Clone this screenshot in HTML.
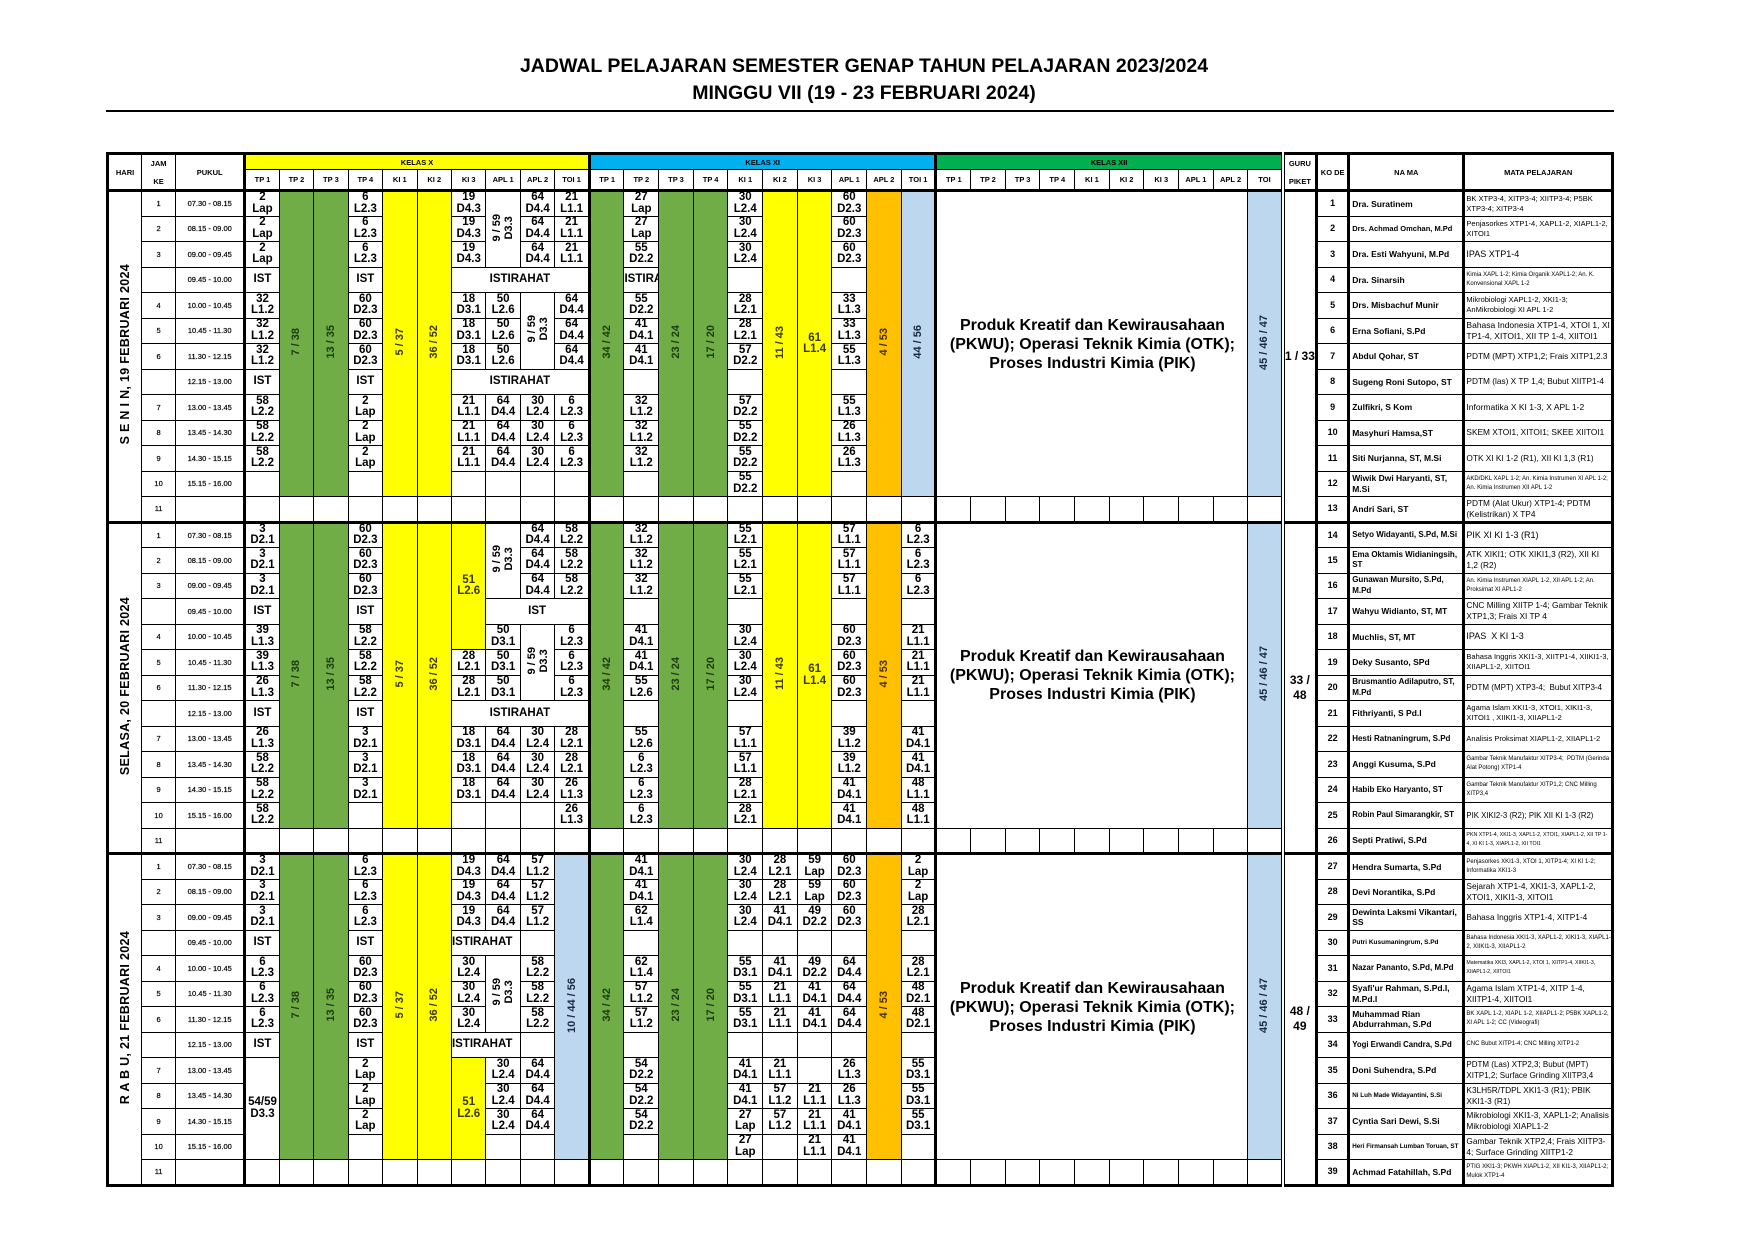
<!DOCTYPE html>
<html><head><meta charset="utf-8">
<style>
body{margin:0;width:1754px;height:1240px;background:#fff;position:relative;font-family:"Liberation Sans",Arial,sans-serif;overflow:hidden}
.ti{position:absolute;left:0;width:1728px;text-align:center;font-weight:bold;font-size:19.5px;line-height:22px}
.hr{position:absolute;left:106px;top:110px;width:1508px;height:2px;background:#000}
table{position:absolute;left:106px;top:152px;width:1508px;border-collapse:collapse;table-layout:fixed;border:3px solid #000}
td{border:1.5px solid #000;padding:0;text-align:center;vertical-align:middle;font-weight:bold;font-size:11.5px;line-height:11.5px;overflow:hidden;color:#000;white-space:nowrap}
tbody{border-top:3px solid #000}
tbody tr{height:25.5px}
thead td{font-size:7.5px;line-height:9px}
.h1{height:16px}.h2{height:21px}
.g{background:#70AD47;color:#1e3a10}
.y{background:#FFFF00;color:#3a3a00}
.o{background:#FFC000;color:#4a3000}
.b{background:#BDD7EE;color:#1a2a40}
.v{writing-mode:vertical-rl;transform:rotate(180deg);display:inline-block;font-size:11px;line-height:12px;white-space:nowrap}
.day .v{font-size:12.5px;letter-spacing:.3px}
.s{font-size:7.5px;font-weight:normal;-webkit-text-stroke:.2px #000}
.big{font-size:16px;line-height:19px;white-space:normal;padding:0 4px}
.gp{font-size:12px;line-height:15px}
.k{font-size:9px}
.n{text-align:left;font-size:8.5px;line-height:10.5px;padding-left:2px;white-space:normal}
.m{text-align:left;font-weight:normal;font-size:9px;line-height:11px;padding-left:1px;white-space:normal}
.m2{font-size:7.5px;line-height:10px}
.m3{font-size:6px;line-height:9px}
.ns{font-size:7.5px}
.l{text-align:left}
</style></head><body>
<div class="ti" style="top:55px">JADWAL PELAJARAN SEMESTER GENAP TAHUN PELAJARAN 2023/2024</div>
<div class="ti" style="top:82px">MINGGU VII (19 - 23 FEBRUARI 2024)</div>
<div class="hr"></div>
<table>
<colgroup>
<col style="width:34px"><col style="width:34px"><col style="width:69px">
<col style="width:34.4px;border-left:3px solid #000"><col style="width:34.4px"><col style="width:34.4px"><col style="width:34.4px"><col style="width:34.4px"><col style="width:34.4px"><col style="width:34.4px"><col style="width:34.4px"><col style="width:34.4px"><col style="width:34.4px">
<col style="width:34.6px;border-left:3px solid #000"><col style="width:34.6px"><col style="width:34.6px"><col style="width:34.6px"><col style="width:34.6px"><col style="width:34.6px"><col style="width:34.6px"><col style="width:34.6px"><col style="width:34.6px"><col style="width:34.6px">
<col style="width:34.6px;border-left:3px solid #000"><col style="width:34.6px"><col style="width:34.6px"><col style="width:34.6px"><col style="width:34.6px"><col style="width:34.6px"><col style="width:34.6px"><col style="width:34.6px"><col style="width:34.6px"><col style="width:34.6px">
<col style="width:34px;border-left:4px double #000"><col style="width:32px;border-left:3px solid #000"><col style="width:115px;border-left:3px solid #000"><col style="width:148px;border-left:3px solid #000">
</colgroup>
<thead>
<tr class="h1"><td rowspan="2">HARI</td><td rowspan="2">JAM<br><br>KE</td><td rowspan="2">PUKUL</td>
<td colspan="10" class="y" style="color:#000">KELAS X</td><td colspan="10" style="background:#00B0F0">KELAS XI</td><td colspan="10" style="background:#00B050">KELAS XII</td>
<td rowspan="2">GURU<br><br>PIKET</td><td rowspan="2">KO DE</td><td rowspan="2">NA MA</td><td rowspan="2">MATA PELAJARAN</td></tr>
<tr class="h2"><td>TP 1</td><td>TP 2</td><td>TP 3</td><td>TP 4</td><td>KI 1</td><td>KI 2</td><td>KI 3</td><td>APL 1</td><td>APL 2</td><td>TOI 1</td>
<td>TP 1</td><td>TP 2</td><td>TP 3</td><td>TP 4</td><td>KI 1</td><td>KI 2</td><td>KI 3</td><td>APL 1</td><td>APL 2</td><td>TOI 1</td>
<td>TP 1</td><td>TP 2</td><td>TP 3</td><td>TP 4</td><td>KI 1</td><td>KI 2</td><td>KI 3</td><td>APL 1</td><td>APL 2</td><td>TOI</td></tr>
</thead>
<!-- SENIN -->
<tbody>
<tr><td rowspan="13" class="day"><div class="v">S E N I N, 19 FEBRUARI 2024</div></td><td class="s">1</td><td class="s">07.30 - 08.15</td>
<td>2<br>Lap</td><td rowspan="12" class="g"><div class="v">7 / 38</div></td><td rowspan="12" class="g"><div class="v">13 / 35</div></td><td>6<br>L2.3</td><td rowspan="12" class="y"><div class="v">5 / 37</div></td><td rowspan="12" class="y"><div class="v">36 / 52</div></td><td>19<br>D4.3</td><td rowspan="3"><div class="v">9 / 59<br>D3.3</div></td><td>64<br>D4.4</td><td>21<br>L1.1</td>
<td rowspan="12" class="g"><div class="v">34 / 42</div></td><td>27<br>Lap</td><td rowspan="12" class="g"><div class="v">23 / 24</div></td><td rowspan="12" class="g"><div class="v">17 / 20</div></td><td>30<br>L2.4</td><td rowspan="12" class="y"><div class="v">11 / 43</div></td><td rowspan="12" class="y">61<br>L1.4</td><td>60<br>D2.3</td><td rowspan="12" class="o"><div class="v">4 / 53</div></td><td rowspan="12" class="b"><div class="v">44 / 56</div></td>
<td colspan="9" rowspan="12" class="big">Produk Kreatif dan Kewirausahaan (PKWU); Operasi Teknik Kimia (OTK); Proses Industri Kimia (PIK)</td><td rowspan="12" class="b"><div class="v">45 / 46 / 47</div></td>
<td rowspan="13" class="gp">1 / 33</td><td class="k">1</td><td class="n">Dra. Suratinem</td><td class="m m2">BK XTP3-4, XITP3-4; XIITP3-4; P5BK XTP3-4; XITP3-4</td></tr>
<tr><td class="s">2</td><td class="s">08.15 - 09.00</td><td>2<br>Lap</td><td>6<br>L2.3</td><td>19<br>D4.3</td><td>64<br>D4.4</td><td>21<br>L1.1</td><td>27<br>Lap</td><td>30<br>L2.4</td><td>60<br>D2.3</td>
<td class="k">2</td><td class="n ns">Drs. Achmad Omchan, M.Pd</td><td class="m m2">Penjasorkes XTP1-4, XAPL1-2, XIAPL1-2, XITOI1</td></tr>
<tr><td class="s">3</td><td class="s">09.00 - 09.45</td><td>2<br>Lap</td><td>6<br>L2.3</td><td>19<br>D4.3</td><td>64<br>D4.4</td><td>21<br>L1.1</td><td>55<br>D2.2</td><td>30<br>L2.4</td><td>60<br>D2.3</td>
<td class="k">3</td><td class="n">Dra. Esti Wahyuni, M.Pd</td><td class="m">IPAS XTP1-4</td></tr>
<tr><td class="s"></td><td class="s">09.45 - 10.00</td><td>IST</td><td>IST</td><td colspan="4">ISTIRAHAT</td><td class="l">ISTIRA</td><td></td><td></td>
<td class="k">4</td><td class="n">Dra. Sinarsih</td><td class="m m3">Kimia XAPL 1-2; Kimia Organik XAPL1-2; An. K. Konvensional XAPL 1-2</td></tr>
<tr><td class="s">4</td><td class="s">10.00 - 10.45</td><td>32<br>L1.2</td><td>60<br>D2.3</td><td>18<br>D3.1</td><td>50<br>L2.6</td><td rowspan="3"><div class="v">9 / 59<br>D3.3</div></td><td>64<br>D4.4</td><td>55<br>D2.2</td><td>28<br>L2.1</td><td>33<br>L1.3</td>
<td class="k">5</td><td class="n">Drs. Misbachuf Munir</td><td class="m m2">Mikrobiologi XAPL1-2, XKI1-3; AnMikrobiologi XI APL 1-2</td></tr>
<tr><td class="s">5</td><td class="s">10.45 - 11.30</td><td>32<br>L1.2</td><td>60<br>D2.3</td><td>18<br>D3.1</td><td>50<br>L2.6</td><td>64<br>D4.4</td><td>41<br>D4.1</td><td>28<br>L2.1</td><td>33<br>L1.3</td>
<td class="k">6</td><td class="n">Erna Sofiani, S.Pd</td><td class="m" style="font-size:8.5px">Bahasa Indonesia XTP1-4, XTOI 1, XI TP1-4, XITOI1, XII TP 1-4, XIITOI1</td></tr>
<tr><td class="s">6</td><td class="s">11.30 - 12.15</td><td>32<br>L1.2</td><td>60<br>D2.3</td><td>18<br>D3.1</td><td>50<br>L2.6</td><td>64<br>D4.4</td><td>41<br>D4.1</td><td>57<br>D2.2</td><td>55<br>L1.3</td>
<td class="k">7</td><td class="n">Abdul Qohar, ST</td><td class="m" style="font-size:8.3px">PDTM (MPT) XTP1,2; Frais XITP1,2.3</td></tr>
<tr><td class="s"></td><td class="s">12.15 - 13.00</td><td>IST</td><td>IST</td><td colspan="4">ISTIRAHAT</td><td></td><td></td><td></td>
<td class="k">8</td><td class="n">Sugeng Roni Sutopo, ST</td><td class="m" style="font-size:8.3px">PDTM (las) X TP 1,4; Bubut XIITP1-4</td></tr>
<tr><td class="s">7</td><td class="s">13.00 - 13.45</td><td>58<br>L2.2</td><td>2<br>Lap</td><td>21<br>L1.1</td><td>64<br>D4.4</td><td>30<br>L2.4</td><td>6<br>L2.3</td><td>32<br>L1.2</td><td>57<br>D2.2</td><td>55<br>L1.3</td>
<td class="k">9</td><td class="n">Zulfikri, S Kom</td><td class="m" style="font-size:8.5px">Informatika X KI 1-3, X APL 1-2</td></tr>
<tr><td class="s">8</td><td class="s">13.45 - 14.30</td><td>58<br>L2.2</td><td>2<br>Lap</td><td>21<br>L1.1</td><td>64<br>D4.4</td><td>30<br>L2.4</td><td>6<br>L2.3</td><td>32<br>L1.2</td><td>55<br>D2.2</td><td>26<br>L1.3</td>
<td class="k">10</td><td class="n">Masyhuri Hamsa,ST</td><td class="m" style="font-size:8.3px">SKEM XTOI1, XITOI1; SKEE XIITOI1</td></tr>
<tr><td class="s">9</td><td class="s">14.30 - 15.15</td><td>58<br>L2.2</td><td>2<br>Lap</td><td>21<br>L1.1</td><td>64<br>D4.4</td><td>30<br>L2.4</td><td>6<br>L2.3</td><td>32<br>L1.2</td><td>55<br>D2.2</td><td>26<br>L1.3</td>
<td class="k">11</td><td class="n">Siti Nurjanna, ST, M.Si</td><td class="m" style="font-size:8.3px">OTK XI KI 1-2 (R1), XII KI 1,3 (R1)</td></tr>
<tr><td class="s">10</td><td class="s">15.15 - 16.00</td><td></td><td></td><td></td><td></td><td></td><td></td><td></td><td>55<br>D2.2</td><td></td>
<td class="k">12</td><td class="n">Wiwik Dwi Haryanti, ST, M.Si</td><td class="m m3">AKD/DKL XAPL 1-2; An. Kimia Instrumen XI APL 1-2; An. Kimia Instrumen XII APL 1-2</td></tr>
<tr><td class="s">11</td><td class="s"></td><td></td><td></td><td></td><td></td><td></td><td></td><td></td><td></td><td></td><td></td><td></td><td></td><td></td><td></td><td></td><td></td><td></td><td></td><td></td><td></td><td></td><td></td><td></td><td></td><td></td><td></td><td></td><td></td><td></td><td></td>
<td class="k">13</td><td class="n">Andri Sari, ST</td><td class="m" style="font-size:8.3px">PDTM (Alat Ukur) XTP1-4; PDTM (Kelistrikan) X TP4</td></tr>
</tbody>
<!-- SELASA -->
<tbody>
<tr><td rowspan="13" class="day"><div class="v">SELASA, 20 FEBRUARI 2024</div></td><td class="s">1</td><td class="s">07.30 - 08.15</td>
<td>3<br>D2.1</td><td rowspan="12" class="g"><div class="v">7 / 38</div></td><td rowspan="12" class="g"><div class="v">13 / 35</div></td><td>60<br>D2.3</td><td rowspan="12" class="y"><div class="v">5 / 37</div></td><td rowspan="12" class="y"><div class="v">36 / 52</div></td><td rowspan="5" class="y">51<br>L2.6</td><td rowspan="3"><div class="v">9 / 59<br>D3.3</div></td><td>64<br>D4.4</td><td>58<br>L2.2</td>
<td rowspan="12" class="g"><div class="v">34 / 42</div></td><td>32<br>L1.2</td><td rowspan="12" class="g"><div class="v">23 / 24</div></td><td rowspan="12" class="g"><div class="v">17 / 20</div></td><td>55<br>L2.1</td><td rowspan="12" class="y"><div class="v">11 / 43</div></td><td rowspan="12" class="y">61<br>L1.4</td><td>57<br>L1.1</td><td rowspan="12" class="o"><div class="v">4 / 53</div></td><td>6<br>L2.3</td>
<td colspan="9" rowspan="12" class="big">Produk Kreatif dan Kewirausahaan (PKWU); Operasi Teknik Kimia (OTK); Proses Industri Kimia (PIK)</td><td rowspan="12" class="b"><div class="v">45 / 46 / 47</div></td>
<td rowspan="13" class="gp">33 /<br>48</td><td class="k">14</td><td class="n" style="font-size:8px">Setyo Widayanti, S.Pd, M.Si</td><td class="m">PIK XI KI 1-3 (R1)</td></tr>
<tr><td class="s">2</td><td class="s">08.15 - 09.00</td><td>3<br>D2.1</td><td>60<br>D2.3</td><td>64<br>D4.4</td><td>58<br>L2.2</td><td>32<br>L1.2</td><td>55<br>L2.1</td><td>57<br>L1.1</td><td>6<br>L2.3</td>
<td class="k">15</td><td class="n" style="font-size:8px">Ema Oktamis Widianingsih, ST</td><td class="m" style="font-size:8.3px">ATK XIKI1; OTK XIKI1,3 (R2), XII KI 1,2 (R2)</td></tr>
<tr><td class="s">3</td><td class="s">09.00 - 09.45</td><td>3<br>D2.1</td><td>60<br>D2.3</td><td>64<br>D4.4</td><td>58<br>L2.2</td><td>32<br>L1.2</td><td>55<br>L2.1</td><td>57<br>L1.1</td><td>6<br>L2.3</td>
<td class="k">16</td><td class="n" style="font-size:8px">Gunawan Mursito, S.Pd, M.Pd</td><td class="m m3">An. Kimia Instrumen XIAPL 1-2, XII APL 1-2; An. Proksimat XI APL1-2</td></tr>
<tr><td class="s"></td><td class="s">09.45 - 10.00</td><td>IST</td><td>IST</td><td colspan="3">IST</td><td></td><td></td><td></td><td></td>
<td class="k">17</td><td class="n" style="font-size:8.3px">Wahyu Widianto, ST, MT</td><td class="m" style="font-size:8.3px">CNC Milling XIITP 1-4; Gambar Teknik XTP1,3; Frais XI TP 4</td></tr>
<tr><td class="s">4</td><td class="s">10.00 - 10.45</td><td>39<br>L1.3</td><td>58<br>L2.2</td><td>50<br>D3.1</td><td rowspan="3"><div class="v">9 / 59<br>D3.3</div></td><td>6<br>L2.3</td><td>41<br>D4.1</td><td>30<br>L2.4</td><td>60<br>D2.3</td><td>21<br>L1.1</td>
<td class="k">18</td><td class="n">Muchlis, ST, MT</td><td class="m">IPAS&nbsp; X KI 1-3</td></tr>
<tr><td class="s">5</td><td class="s">10.45 - 11.30</td><td>39<br>L1.3</td><td>58<br>L2.2</td><td>28<br>L2.1</td><td>50<br>D3.1</td><td>6<br>L2.3</td><td>41<br>D4.1</td><td>30<br>L2.4</td><td>60<br>D2.3</td><td>21<br>L1.1</td>
<td class="k">19</td><td class="n">Deky Susanto, SPd</td><td class="m m2">Bahasa Inggris XKI1-3, XIITP1-4, XIIKI1-3, XIIAPL1-2, XIITOI1</td></tr>
<tr><td class="s">6</td><td class="s">11.30 - 12.15</td><td>26<br>L1.3</td><td>58<br>L2.2</td><td>28<br>L2.1</td><td>50<br>D3.1</td><td>6<br>L2.3</td><td>55<br>L2.6</td><td>30<br>L2.4</td><td>60<br>D2.3</td><td>21<br>L1.1</td>
<td class="k">20</td><td class="n" style="font-size:8px">Brusmantio Adilaputro, ST, M.Pd</td><td class="m" style="font-size:8px">PDTM (MPT) XTP3-4;&nbsp; Bubut XITP3-4</td></tr>
<tr><td class="s"></td><td class="s">12.15 - 13.00</td><td>IST</td><td>IST</td><td colspan="4">ISTIRAHAT</td><td></td><td></td><td></td><td></td>
<td class="k">21</td><td class="n">Fithriyanti, S Pd.I</td><td class="m m2">Agama Islam XKI1-3, XTOI1, XIKI1-3, XITOI1 , XIIKI1-3, XIIAPL1-2</td></tr>
<tr><td class="s">7</td><td class="s">13.00 - 13.45</td><td>26<br>L1.3</td><td>3<br>D2.1</td><td>18<br>D3.1</td><td>64<br>D4.4</td><td>30<br>L2.4</td><td>28<br>L2.1</td><td>55<br>L2.6</td><td>57<br>L1.1</td><td>39<br>L1.2</td><td>41<br>D4.1</td>
<td class="k">22</td><td class="n" style="font-size:8px">Hesti Ratnaningrum, S.Pd</td><td class="m" style="font-size:7.5px">Analisis Proksimat XIAPL1-2, XIIAPL1-2</td></tr>
<tr><td class="s">8</td><td class="s">13.45 - 14.30</td><td>58<br>L2.2</td><td>3<br>D2.1</td><td>18<br>D3.1</td><td>64<br>D4.4</td><td>30<br>L2.4</td><td>28<br>L2.1</td><td>6<br>L2.3</td><td>57<br>L1.1</td><td>39<br>L1.2</td><td>41<br>D4.1</td>
<td class="k">23</td><td class="n">Anggi Kusuma, S.Pd</td><td class="m m3">Gambar Teknik Manufaktur XITP3-4;&nbsp; PDTM (Gerinda Alat Potong) XTP1-4</td></tr>
<tr><td class="s">9</td><td class="s">14.30 - 15.15</td><td>58<br>L2.2</td><td>3<br>D2.1</td><td>18<br>D3.1</td><td>64<br>D4.4</td><td>30<br>L2.4</td><td>26<br>L1.3</td><td>6<br>L2.3</td><td>28<br>L2.1</td><td>41<br>D4.1</td><td>48<br>L1.1</td>
<td class="k">24</td><td class="n" style="font-size:8px">Habib Eko Haryanto, ST</td><td class="m m3">Gambar Teknik Manufaktur XITP1,2; CNC Milling XITP3,4</td></tr>
<tr><td class="s">10</td><td class="s">15.15 - 16.00</td><td>58<br>L2.2</td><td></td><td></td><td></td><td></td><td>26<br>L1.3</td><td>6<br>L2.3</td><td>28<br>L2.1</td><td>41<br>D4.1</td><td>48<br>L1.1</td>
<td class="k">25</td><td class="n" style="font-size:7.8px">Robin Paul Simarangkir, ST</td><td class="m" style="font-size:7.8px">PIK XIKI2-3 (R2); PIK XII KI 1-3 (R2)</td></tr>
<tr><td class="s">11</td><td class="s"></td><td></td><td></td><td></td><td></td><td></td><td></td><td></td><td></td><td></td><td></td><td></td><td></td><td></td><td></td><td></td><td></td><td></td><td></td><td></td><td></td><td></td><td></td><td></td><td></td><td></td><td></td><td></td><td></td><td></td><td></td>
<td class="k">26</td><td class="n">Septi Pratiwi, S.Pd</td><td class="m m3" style="font-size:5.3px">PKN XTP1-4, XKI1-3, XAPL1-2, XTOI1, XIAPL1-2, XII TP 1-4, XI KI 1-3, XIAPL1-2, XII TOI1</td></tr>
</tbody>
<!-- RABU -->
<tbody>
<tr><td rowspan="13" class="day"><div class="v">R A B U, 21 FEBRUARI 2024</div></td><td class="s">1</td><td class="s">07.30 - 08.15</td>
<td>3<br>D2.1</td><td rowspan="12" class="g"><div class="v">7 / 38</div></td><td rowspan="12" class="g"><div class="v">13 / 35</div></td><td>6<br>L2.3</td><td rowspan="12" class="y"><div class="v">5 / 37</div></td><td rowspan="12" class="y"><div class="v">36 / 52</div></td><td>19<br>D4.3</td><td>64<br>D4.4</td><td>57<br>L1.2</td><td rowspan="12" class="b"><div class="v">10 / 44 / 56</div></td>
<td rowspan="12" class="g"><div class="v">34 / 42</div></td><td>41<br>D4.1</td><td rowspan="12" class="g"><div class="v">23 / 24</div></td><td rowspan="12" class="g"><div class="v">17 / 20</div></td><td>30<br>L2.4</td><td>28<br>L2.1</td><td>59<br>Lap</td><td>60<br>D2.3</td><td rowspan="12" class="o"><div class="v">4 / 53</div></td><td>2<br>Lap</td>
<td colspan="9" rowspan="12" class="big">Produk Kreatif dan Kewirausahaan (PKWU); Operasi Teknik Kimia (OTK); Proses Industri Kimia (PIK)</td><td rowspan="12" class="b"><div class="v">45 / 46 / 47</div></td>
<td rowspan="13" class="gp">48 /<br>49</td><td class="k">27</td><td class="n">Hendra Sumarta, S.Pd</td><td class="m m3">Penjasorkes XKI1-3, XTOI 1, XITP1-4; XI KI 1-2; Informatika XKI1-3</td></tr>
<tr><td class="s">2</td><td class="s">08.15 - 09.00</td><td>3<br>D2.1</td><td>6<br>L2.3</td><td>19<br>D4.3</td><td>64<br>D4.4</td><td>57<br>L1.2</td><td>41<br>D4.1</td><td>30<br>L2.4</td><td>28<br>L2.1</td><td>59<br>Lap</td><td>60<br>D2.3</td><td>2<br>Lap</td>
<td class="k">28</td><td class="n">Devi Norantika, S.Pd</td><td class="m" style="font-size:8.3px">Sejarah XTP1-4, XKI1-3, XAPL1-2, XTOI1, XIKI1-3, XITOI1</td></tr>
<tr><td class="s">3</td><td class="s">09.00 - 09.45</td><td>3<br>D2.1</td><td>6<br>L2.3</td><td>19<br>D4.3</td><td>64<br>D4.4</td><td>57<br>L1.2</td><td>62<br>L1.4</td><td>30<br>L2.4</td><td>41<br>D4.1</td><td>49<br>D2.2</td><td>60<br>D2.3</td><td>28<br>L2.1</td>
<td class="k">29</td><td class="n">Dewinta Laksmi Vikantari, SS</td><td class="m" style="font-size:8.3px">Bahasa Inggris XTP1-4, XITP1-4</td></tr>
<tr><td class="s"></td><td class="s">09.45 - 10.00</td><td>IST</td><td>IST</td><td colspan="2" class="l">ISTIRAHAT</td><td></td><td></td><td></td><td></td><td></td><td></td><td></td>
<td class="k">30</td><td class="n" style="font-size:6.5px">Putri Kusumaningrum, S.Pd</td><td class="m m3">Bahasa Indonesia XKI1-3, XAPL1-2, XIKI1-3, XIAPL1-2, XIIKI1-3, XIIAPL1-2</td></tr>
<tr><td class="s">4</td><td class="s">10.00 - 10.45</td><td>6<br>L2.3</td><td>60<br>D2.3</td><td>30<br>L2.4</td><td rowspan="3"><div class="v">9 / 59<br>D3.3</div></td><td>58<br>L2.2</td><td>62<br>L1.4</td><td>55<br>D3.1</td><td>41<br>D4.1</td><td>49<br>D2.2</td><td>64<br>D4.4</td><td>28<br>L2.1</td>
<td class="k">31</td><td class="n" style="font-size:8px">Nazar Pananto, S.Pd, M.Pd</td><td class="m m3" style="font-size:5.2px">Matematika XKI3, XAPL1-2, XTOI 1, XIITP1-4, XIIKI1-3, XIIAPL1-2, XIITOI1</td></tr>
<tr><td class="s">5</td><td class="s">10.45 - 11.30</td><td>6<br>L2.3</td><td>60<br>D2.3</td><td>30<br>L2.4</td><td>58<br>L2.2</td><td>57<br>L1.2</td><td>55<br>D3.1</td><td>21<br>L1.1</td><td>41<br>D4.1</td><td>64<br>D4.4</td><td>48<br>D2.1</td>
<td class="k">32</td><td class="n">Syafi'ur Rahman, S.Pd.I, M.Pd.I</td><td class="m" style="font-size:8.3px">Agama Islam XTP1-4, XITP 1-4, XIITP1-4, XIITOI1</td></tr>
<tr><td class="s">6</td><td class="s">11.30 - 12.15</td><td>6<br>L2.3</td><td>60<br>D2.3</td><td>30<br>L2.4</td><td>58<br>L2.2</td><td>57<br>L1.2</td><td>55<br>D3.1</td><td>21<br>L1.1</td><td>41<br>D4.1</td><td>64<br>D4.4</td><td>48<br>D2.1</td>
<td class="k">33</td><td class="n">Muhammad Rian Abdurrahman, S.Pd</td><td class="m m3">BK XAPL 1-2, XIAPL 1-2, XIIAPL1-2; P5BK XAPL1-2, XI APL 1-2; CC (Videografi)</td></tr>
<tr><td class="s"></td><td class="s">12.15 - 13.00</td><td>IST</td><td>IST</td><td colspan="2" class="l">ISTIRAHAT</td><td></td><td></td><td></td><td></td><td></td><td></td><td></td>
<td class="k">34</td><td class="n" style="font-size:7.8px">Yogi Erwandi Candra, S.Pd</td><td class="m m3">CNC Bubut XITP1-4; CNC Milling XITP1-2</td></tr>
<tr><td class="s">7</td><td class="s">13.00 - 13.45</td><td rowspan="4">54/59<br>D3.3</td><td>2<br>Lap</td><td rowspan="4" class="y">51<br>L2.6</td><td>30<br>L2.4</td><td>64<br>D4.4</td><td>54<br>D2.2</td><td>41<br>D4.1</td><td>21<br>L1.1</td><td></td><td>26<br>L1.3</td><td>55<br>D3.1</td>
<td class="k">35</td><td class="n">Doni Suhendra, S.Pd</td><td class="m" style="font-size:8px">PDTM (Las) XTP2,3; Bubut (MPT) XITP1,2; Surface Grinding XIITP3,4</td></tr>
<tr><td class="s">8</td><td class="s">13.45 - 14.30</td><td>2<br>Lap</td><td>30<br>L2.4</td><td>64<br>D4.4</td><td>54<br>D2.2</td><td>41<br>D4.1</td><td>57<br>L1.2</td><td>21<br>L1.1</td><td>26<br>L1.3</td><td>55<br>D3.1</td>
<td class="k">36</td><td class="n" style="font-size:6.3px">Ni Luh Made Widayantini, S.Si</td><td class="m" style="font-size:8.3px">K3LH5R/TDPL XKI1-3 (R1); PBIK XKI1-3 (R1)</td></tr>
<tr><td class="s">9</td><td class="s">14.30 - 15.15</td><td>2<br>Lap</td><td>30<br>L2.4</td><td>64<br>D4.4</td><td>54<br>D2.2</td><td>27<br>Lap</td><td>57<br>L1.2</td><td>21<br>L1.1</td><td>41<br>D4.1</td><td>55<br>D3.1</td>
<td class="k">37</td><td class="n">Cyntia Sari Dewi, S.Si</td><td class="m" style="font-size:8.3px">Mikrobiologi XKI1-3, XAPL1-2; Analisis Mikrobiologi XIAPL1-2</td></tr>
<tr><td class="s">10</td><td class="s">15.15 - 16.00</td><td></td><td></td><td></td><td></td><td>27<br>Lap</td><td></td><td>21<br>L1.1</td><td>41<br>D4.1</td><td></td>
<td class="k">38</td><td class="n" style="font-size:6.3px">Heri Firmansah Lumban Toruan, ST</td><td class="m" style="font-size:8.3px">Gambar Teknik XTP2,4; Frais XIITP3-4; Surface Grinding XIITP1-2</td></tr>
<tr><td class="s">11</td><td class="s"></td><td></td><td></td><td></td><td></td><td></td><td></td><td></td><td></td><td></td><td></td><td></td><td></td><td></td><td></td><td></td><td></td><td></td><td></td><td></td><td></td><td></td><td></td><td></td><td></td><td></td><td></td><td></td><td></td><td></td><td></td>
<td class="k">39</td><td class="n">Achmad Fatahillah, S.Pd</td><td class="m m3">PTIG XKI1-3; PKWH XIAPL1-2, XII KI1-3, XIIAPL1-2; Mulok XTP1-4</td></tr>
</tbody>
</table>
</body></html>
